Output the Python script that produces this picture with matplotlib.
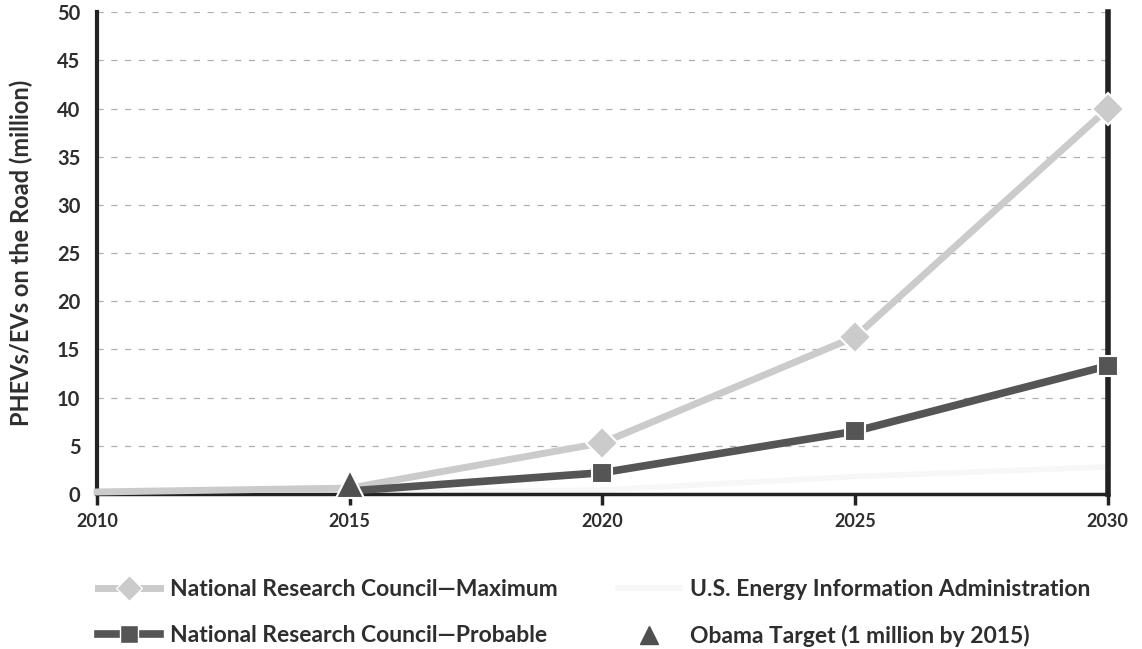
import matplotlib
matplotlib.use("Agg")
import matplotlib.pyplot as plt
from matplotlib.lines import Line2D

plt.rcParams['font.family'] = ['Lato', 'DejaVu Sans']

years = [2010, 2015, 2020, 2025, 2030]
nrc_max = [0.2, 0.6, 5.3, 16.3, 40.0]
nrc_prob_years = [2015, 2020, 2025, 2030]
nrc_prob = [0.3, 2.2, 6.5, 13.3]
eia_years = [2015, 2020, 2025, 2030]
eia = [0.1, 0.4, 1.8, 2.8]
obama_year = [2015]
obama = [1.0]

yticks = list(range(0, 55, 5))
xticks = [2010, 2015, 2020, 2025, 2030]

txt = '#2e2e2e'
c_max = '#cbcbcb'
c_prob = '#555555'
c_eia = '#f7f7f7'
c_obama = '#505050'

fig = plt.figure(figsize=(11.42, 6.49), dpi=100)
ax = fig.add_axes([0.085, 0.239, 0.885, 0.742])

# dashed horizontal grid
for y in yticks[1:]:
    ax.axhline(y, color='#b0b0b0', lw=0.9, ls=(0, (5, 6)), zorder=1)

ax.plot(eia_years, eia, color=c_eia, lw=4, zorder=2)
ax.plot(years, nrc_max, color=c_max, lw=5, marker='D', ms=16, markevery=[2, 3, 4],
        mec='white', mew=1.5, zorder=3, clip_on=False)
ax.plot(nrc_prob_years, nrc_prob, color=c_prob, lw=5.5, marker='s', ms=15, markevery=[1, 2, 3],
        mec='white', mew=1.5, zorder=4, clip_on=False)
ax.plot(obama_year, obama, color=c_obama, ls='none', marker='^', ms=20,
        mec='white', mew=1.5, zorder=5, clip_on=False)

ax.set_xlim(2010, 2030)
ax.set_ylim(0, 50)
ax.set_xticks(xticks)
ax.set_yticks(yticks)
ax.tick_params(axis='y', length=0, pad=12, labelsize=14.5, labelcolor=txt)
ax.tick_params(axis='x', length=8, width=2.5, color='#222222', pad=6,
               labelsize=13, labelcolor=txt, direction='out')
for lab in ax.get_xticklabels() + ax.get_yticklabels():
    lab.set_fontweight('bold')

ax.spines['top'].set_visible(False)
ax.spines['left'].set_linewidth(3)
ax.spines['right'].set_linewidth(4)
ax.spines['bottom'].set_linewidth(2.5)
for side in ['left', 'right', 'bottom']:
    ax.spines[side].set_color('#222222')
    ax.spines[side].set_zorder(2.5)

ax.set_ylabel('PHEVs/EVs on the Road (million)', fontsize=17, fontweight='bold',
              color=txt, labelpad=17)

handles = [
    Line2D([], [], color=c_max, lw=5, marker='D', ms=13, mec='white'),
    Line2D([], [], color=c_prob, lw=5.5, marker='s', ms=13, mec='white'),
    Line2D([], [], color=c_eia, lw=4),
    Line2D([], [], color=c_obama, ls='none', marker='^', ms=13),
]
labels = ['National Research Council\u2014Maximum',
          'National Research Council\u2014Probable',
          'U.S. Energy Information Administration',
          'Obama Target (1 million by 2015)']
fig.legend(handles, labels, ncol=2, loc='upper left', bbox_to_anchor=(0.068, 0.14),
           frameon=False, handlelength=2.7, handletextpad=0.45,
           columnspacing=2.6, labelspacing=1.1, labelcolor=txt,
           prop={'size': 16.5, 'weight': 'bold'})

fig.savefig('out.png', dpi=100)
